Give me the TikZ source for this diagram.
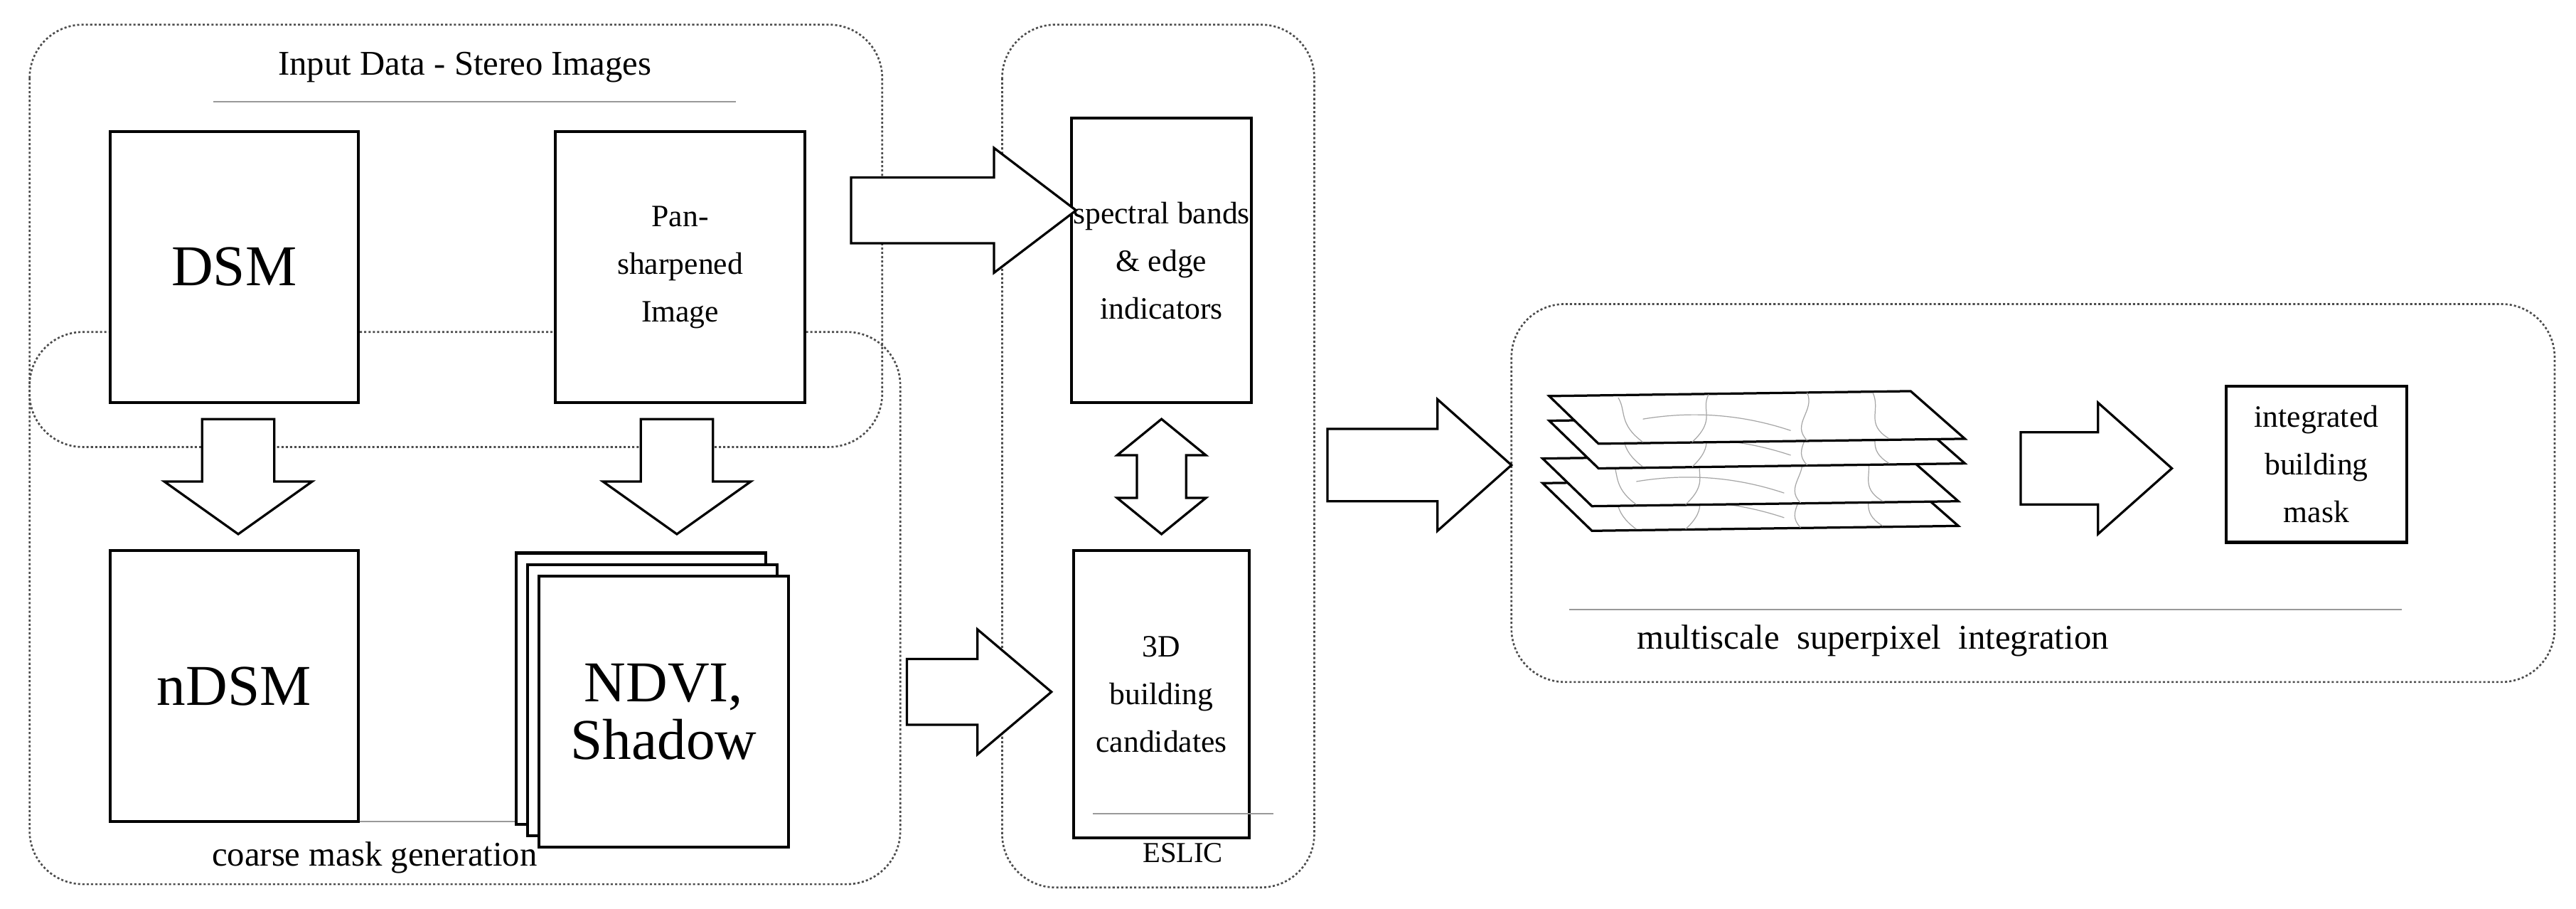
\documentclass[tikz,border=0pt]{standalone}
\usepackage{fontspec}
\setmainfont{Liberation Serif}
\newcommand{\myrarrow}[6]{\draw[barr] (#1,{#3-#4}) -- ({#2-#6},{#3-#4}) -- ({#2-#6},{#3-#5}) -- (#2,#3) -- ({#2-#6},{#3+#5}) -- ({#2-#6},{#3+#4}) -- (#1,{#3+#4}) -- cycle;}
\newcommand{\mydarrow}[6]{\draw[barr] ({#3-#4},#1) -- ({#3-#4},{#2-#6}) -- ({#3-#5},{#2-#6}) -- (#3,#2) -- ({#3+#5},{#2-#6}) -- ({#3+#4},{#2-#6}) -- ({#3+#4},#1) -- cycle;}
\begin{document}
\begin{tikzpicture}[x=0.04cm,y=-0.04cm,
 grp/.style={draw=black!70,line width=1.3pt,dash pattern=on 1.5pt off 1.5pt,rounded corners=1.3cm},
 box/.style={draw,line width=2pt,fill=white,align=center,inner sep=1pt},
 sep/.style={draw=black!40,line width=1pt},
 ttl/.style={font=\fontsize{24}{28}\selectfont},
 big/.style={font=\fontsize{40}{44}\selectfont},
 mid/.style={font=\fontsize{21.5}{33}\selectfont},
 barr/.style={draw,line width=1.6pt,fill=white,line join=miter},
 lay/.style={draw,line width=1.6pt,fill=white},
 sp/.style={draw=black!35,line width=0.6pt}]
\useasboundingbox (0,0) rectangle (1568,553);
% groups
\draw[grp] (18,15) rectangle (537,272);
\draw[grp] (18,202) rectangle (548,538);
\draw[grp] (610,15) rectangle (800,540);
\draw[grp] (920,185) rectangle (1555,415);
% group 1
\node[ttl] (t1) at (283,41) {Input Data - Stereo Images};
\draw[sep] (130,62) -- (448,62);
\node[box,big,minimum width=151*0.04cm,minimum height=165*0.04cm] (dsm) at (142.5,162.5) {DSM};
\node[box,mid,minimum width=152*0.04cm,minimum height=165*0.04cm] (pan) at (414,162.5) {Pan-\\sharpened\\Image};
% group 2
\draw[sep] (130,500) -- (433,500);
\node[box,big,minimum width=151*0.04cm,minimum height=165*0.04cm] (ndsm) at (142.5,417.5) {nDSM};
\node[box,minimum width=152*0.04cm,minimum height=165*0.04cm] (b1) at (390,419) {};
\node[box,minimum width=152*0.04cm,minimum height=165*0.04cm] (b2) at (397,426) {};
\node[box,big,minimum width=152*0.04cm,minimum height=165*0.04cm] (ndvi) at (404,433) {NDVI,\\[-4pt]Shadow};
\node[ttl] (t2) at (228,522) {coarse mask generation};
% group 3
\node[box,mid,minimum width=107*0.04cm,minimum height=173*0.04cm] (spec) at (707,158.5) {spectral bands\\\& edge\\indicators};
\node[box,mid,minimum width=107*0.04cm,minimum height=175*0.04cm] (cand) at (707,422.5) {3D\\building\\candidates};
\draw[sep] (665,495) -- (775,495);
\node[font=\fontsize{20}{24}\selectfont] (t3) at (720,519) {ESLIC};
% group 4
\node[box,mid,minimum width=110*0.04cm,minimum height=95*0.04cm] (integ) at (1410,282.5) {integrated\\building\\mask};
\draw[sep] (955,371) -- (1462,371);
\node[ttl] (t4) at (1140,390) {multiscale\ \ superpixel\ \ integration};
% layers (back to front)
\foreach \dx/\dy in {-4/53,-4/38,0/15,0/0}{
 \begin{scope}[shift={(\dx,\dy)}]
 \draw[lay] (943,241) -- (1163,238) -- (1196,267) -- (973,270) -- cycle;
 \draw[sp] (985,242) .. controls (990,250) and (985,258) .. (1000,269);
 \draw[sp] (1040,240) .. controls (1035,250) and (1045,255) .. (1030,269);
 \draw[sp] (1000,255) .. controls (1030,250) and (1060,252) .. (1090,262);
 \draw[sp] (1100,239) .. controls (1105,250) and (1090,258) .. (1100,268);
 \draw[sp] (1140,239) .. controls (1145,250) and (1135,258) .. (1150,267);
 \end{scope}}
% block arrows
\myrarrow{518}{655}{128}{20}{38}{50}
\myrarrow{552}{640}{421}{20}{38}{45}
\myrarrow{808}{920}{283}{22}{40}{45}
\myrarrow{1230}{1322}{285}{22}{40}{45}
\mydarrow{255}{325}{145}{22}{45}{32}
\mydarrow{255}{325}{412}{22}{45}{32}
\draw[barr] (692,277) -- (692,303) -- (680,303) -- (707,325) -- (734,303) -- (722,303) -- (722,277) -- (734,277) -- (707,255) -- (680,277) -- cycle;
\end{tikzpicture}
\end{document}
